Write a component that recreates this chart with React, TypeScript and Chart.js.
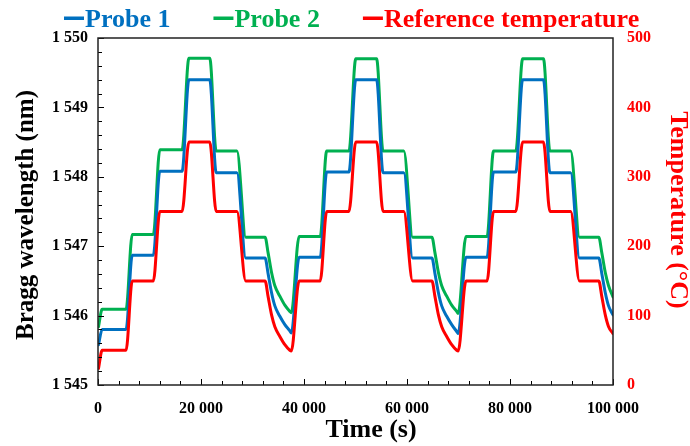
import React, { useEffect, useRef } from "react";
import { Chart, registerables } from "chart.js";

Chart.register(...registerables);

// ---- data ----
const timeS = [
  100, 800, 5450, 6650, 10750, 12000, 16330, 17650, 21700, 22950, 26980, 28690, 32440, 33040, 33700, 34340, 35310, 36280, 37250, 37540,
  39050, 43150, 44400, 48730, 50050, 54100, 55350, 59380, 61090, 64840, 65440, 66100, 66740, 67710, 68680, 69650, 69940,
  71450, 75550, 76800, 81130, 82450, 86500, 87750, 91780, 93490, 97240, 97840, 98500, 99140, 100000,
];

const refTemp = [
  24, 50, 50, 150, 150, 250, 250, 350, 350, 250, 250, 150, 150, 127, 101, 84, 70, 58, 50, 49,
  150, 150, 250, 250, 350, 350, 250, 250, 150, 150, 127, 101, 84, 70, 58, 50, 49,
  150, 150, 250, 250, 350, 350, 250, 250, 150, 150, 127, 101, 84, 74,
];

const probe1 = [
  1545.58, 1545.8, 1545.8, 1546.87, 1546.87, 1548.08, 1548.08, 1549.4, 1549.4, 1548.06, 1548.06, 1546.83, 1546.83, 1546.6, 1546.33, 1546.14, 1545.99, 1545.87, 1545.78, 1545.75,
  1546.84, 1546.84, 1548.07, 1548.07, 1549.4, 1549.4, 1548.06, 1548.06, 1546.83, 1546.83, 1546.6, 1546.33, 1546.14, 1545.99, 1545.87, 1545.77, 1545.74,
  1546.84, 1546.84, 1548.07, 1548.07, 1549.4, 1549.4, 1548.06, 1548.06, 1546.83, 1546.83, 1546.6, 1546.33, 1546.14, 1546.01,
];

const probe2 = [
  1545.84, 1546.09, 1546.09, 1547.17, 1547.17, 1548.39, 1548.39, 1549.71, 1549.71, 1548.37, 1548.37, 1547.13, 1547.13, 1546.9, 1546.62, 1546.43, 1546.28, 1546.15, 1546.06, 1546.04,
  1547.14, 1547.14, 1548.37, 1548.37, 1549.7, 1549.7, 1548.37, 1548.37, 1547.13, 1547.13, 1546.9, 1546.62, 1546.43, 1546.28, 1546.15, 1546.06, 1546.03,
  1547.14, 1547.14, 1548.37, 1548.37, 1549.7, 1549.7, 1548.37, 1548.37, 1547.13, 1547.13, 1546.9, 1546.62, 1546.43, 1546.27,
];

const seriesNames = ["Probe 1", "Probe 2", "Reference temperature"];
const xTicks = [0, 20000, 40000, 60000, 80000, 100000];
const leftTicks = [1545, 1546, 1547, 1548, 1549, 1550];
const rightTicks = [0, 100, 200, 300, 400, 500];
const xMinorStep = 4000;
const leftMinorStep = 0.2;

const xTitle = "Time (s)";
const leftTitle = "Bragg wavelength (nm)";
const rightTitle = "Temperature (°C)";

// ---- styles ----
const COLORS = ["#0070C0", "#00B050", "#FF0000"];
const FAMILY = "'Liberation Serif', 'Times New Roman', serif";

const fmt = (v: number) => String(Math.round(v)).replace(/\B(?=(\d{3})+(?!\d))/g, " ");

const decorPlugin = {
  id: "decor",
  afterDraw(chart: any) {
    const { ctx, chartArea } = chart;
    const { left, right, top, bottom } = chartArea;
    const xs = chart.scales.x;
    const ys = chart.scales.y;
    ctx.save();

    // inward ticks
    ctx.strokeStyle = "#000";
    ctx.lineWidth = 1;
    ctx.beginPath();
    for (let v = xs.min; v <= xs.max + 1e-6; v += xMinorStep) {
      const px = Math.round(xs.getPixelForValue(v)) + 0.5;
      const len = xTicks.includes(v) ? 6 : 4;
      ctx.moveTo(px, bottom);
      ctx.lineTo(px, bottom - len);
    }
    const n = Math.round((ys.max - ys.min) / leftMinorStep);
    for (let i = 0; i <= n; i++) {
      const v = ys.min + i * leftMinorStep;
      const py = Math.round(ys.getPixelForValue(v)) + 0.5;
      const len = i % 5 === 0 ? 6 : 4;
      ctx.moveTo(left, py);
      ctx.lineTo(left + len, py);
    }
    ctx.stroke();

    // frame
    ctx.strokeStyle = "#222";
    ctx.lineWidth = 1.5;
    ctx.strokeRect(left, top, right - left, bottom - top);

    // legend
    ctx.font = `bold 26px ${FAMILY}`;
    ctx.textAlign = "left";
    ctx.textBaseline = "alphabetic";
    let lx = 64;
    seriesNames.forEach((name, i) => {
      ctx.fillStyle = COLORS[i];
      ctx.fillRect(lx, 16.5, 20, 3.5);
      ctx.fillText(name, lx + 21, 27);
      lx += 21 + ctx.measureText(name).width + 43;
    });

    // x title
    ctx.fillStyle = "#000";
    ctx.textAlign = "center";
    ctx.font = `bold 26px ${FAMILY}`;
    ctx.fillText(xTitle, 371, 437);

    // left title
    ctx.save();
    ctx.translate(33, 215);
    ctx.rotate(-Math.PI / 2);
    ctx.font = `bold 25px ${FAMILY}`;
    ctx.fillStyle = "#000";
    ctx.fillText(leftTitle, 0, 0);
    ctx.restore();

    // right title
    ctx.save();
    ctx.translate(671, 210);
    ctx.rotate(Math.PI / 2);
    ctx.font = `bold 26px ${FAMILY}`;
    ctx.fillStyle = "#FF0000";
    ctx.fillText(rightTitle, 0, 0);
    ctx.restore();

    ctx.restore();
  },
};

export default function App() {
  const ref = useRef<HTMLCanvasElement | null>(null);

  useEffect(() => {
    if (!ref.current) return;
    const tickFont = { family: FAMILY, size: 16, weight: "bold" as const };
    const mk = (vals: number[]) => timeS.map((t, i) => ({ x: t, y: vals[i] }));
    const chart = new Chart(ref.current, {
      type: "line",
      data: {
        datasets: [
          { label: seriesNames[2], data: mk(refTemp), yAxisID: "y1", borderColor: COLORS[2], backgroundColor: COLORS[2] },
          { label: seriesNames[0], data: mk(probe1), yAxisID: "y", borderColor: COLORS[0], backgroundColor: COLORS[0] },
          { label: seriesNames[1], data: mk(probe2), yAxisID: "y", borderColor: COLORS[1], backgroundColor: COLORS[1] },
        ],
      },
      options: {
        animation: false,
        responsive: false,
        maintainAspectRatio: false,
        layout: { padding: { top: 38, left: 0, right: 0, bottom: 0 } },
        elements: {
          point: { radius: 0 },
          line: { borderWidth: 3, cubicInterpolationMode: "monotone", borderJoinStyle: "round", borderCapStyle: "round" },
        },
        plugins: { legend: { display: false }, tooltip: { enabled: false } },
        scales: {
          x: {
            type: "linear",
            min: 0,
            max: 100000,
            afterBuildTicks: (s: any) => { s.ticks = xTicks.map((v) => ({ value: v })); },
            afterFit: (s: any) => { s.height = 61; },
            grid: { display: false, drawTicks: false },
            border: { display: false },
            ticks: { font: tickFont, color: "#000", padding: 14, maxRotation: 0, autoSkip: false, callback: (v: any) => fmt(Number(v)) },
          },
          y: {
            type: "linear",
            position: "left",
            min: 1545,
            max: 1550,
            afterBuildTicks: (s: any) => { s.ticks = leftTicks.map((v) => ({ value: v })); },
            afterFit: (s: any) => { s.width = 98; },
            grid: { display: false, drawTicks: false },
            border: { display: false },
            ticks: { font: tickFont, color: "#000", padding: 10, callback: (v: any) => fmt(Number(v)) },
          },
          y1: {
            type: "linear",
            position: "right",
            min: 0,
            max: 500,
            afterBuildTicks: (s: any) => { s.ticks = rightTicks.map((v) => ({ value: v })); },
            afterFit: (s: any) => { s.width = 77; },
            grid: { display: false, drawTicks: false },
            border: { display: false },
            ticks: { font: tickFont, color: "#FF0000", padding: 14, callback: (v: any) => fmt(Number(v)) },
          },
        },
      } as any,
      plugins: [decorPlugin],
    });
    return () => chart.destroy();
  }, []);

  return (
    <div style={{ position: "fixed", left: 0, top: 0, width: 690, height: 446, background: "#fff" }}>
      <canvas ref={ref} width={690} height={446} style={{ display: "block", width: 690, height: 446 }} />
    </div>
  );
}
